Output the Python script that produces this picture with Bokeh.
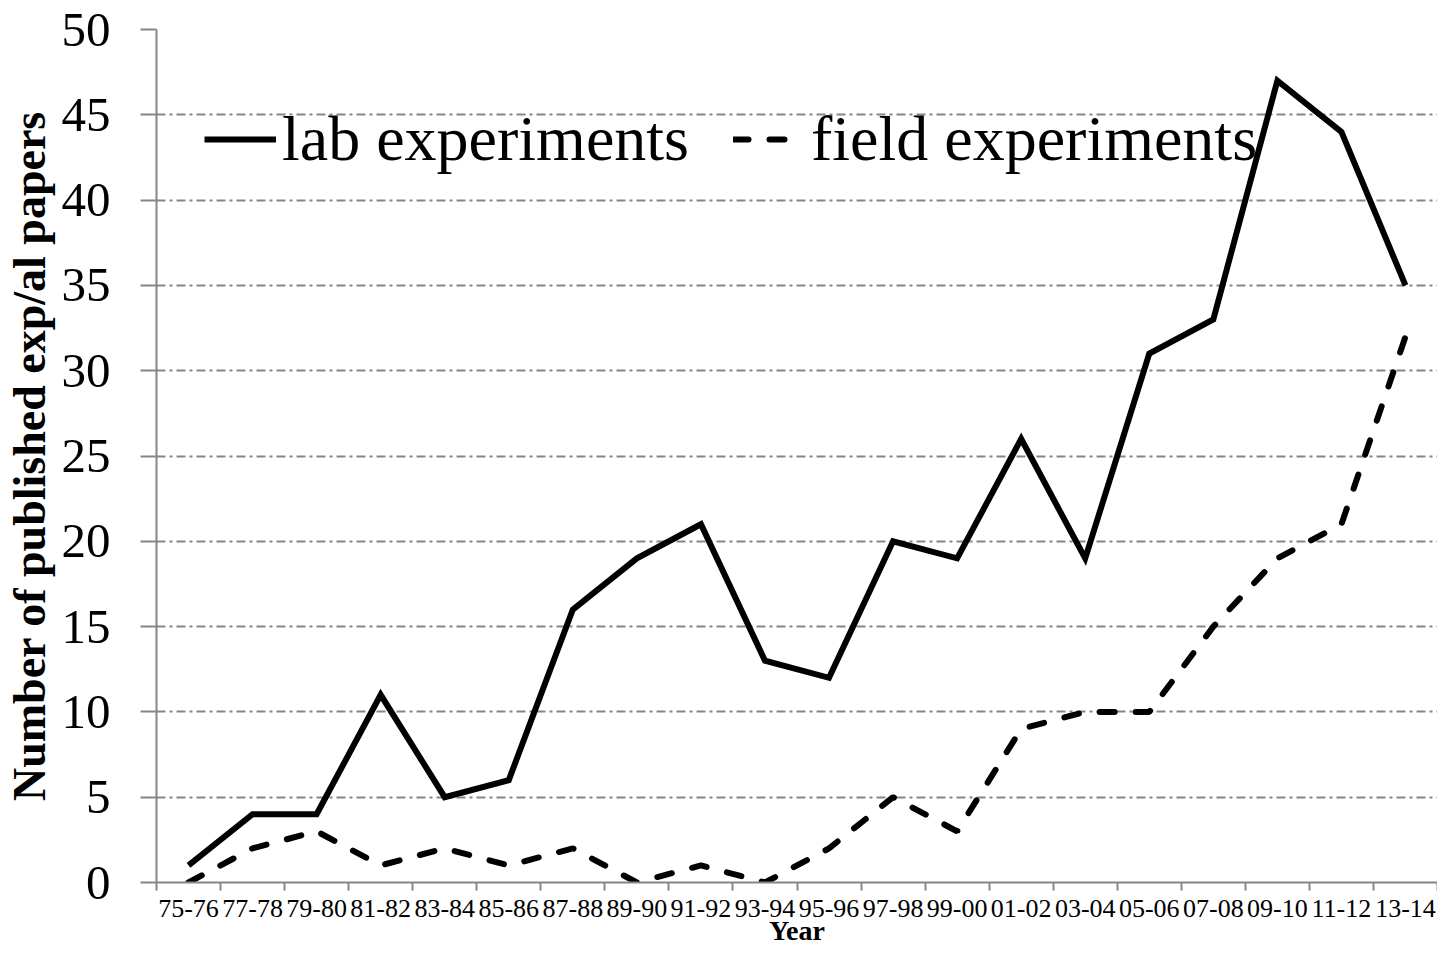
from bokeh.plotting import figure
from bokeh.models import FixedTicker, Range1d, Legend, LegendItem
from bokeh.embed import file_html
from bokeh.resources import INLINE

categories = ["75-76", "77-78", "79-80", "81-82", "83-84", "85-86", "87-88", "89-90",
              "91-92", "93-94", "95-96", "97-98", "99-00", "01-02", "03-04", "05-06",
              "07-08", "09-10", "11-12", "13-14"]
lab = [1, 4, 4, 11, 5, 6, 16, 19, 21, 13, 12, 20, 19, 26, 19, 31, 33, 47, 44, 35]
field = [0, 2, 3, 1, 2, 1, 2, 0, 1, 0, 2, 5, 3, 9, 10, 10, 15, 19, 21, 32]
y_ticks = [0, 5, 10, 15, 20, 25, 30, 35, 40, 45, 50]

FONT = "Liberation Serif"
GRAY = "#868686"

xs = [i + 0.5 for i in range(len(categories))]

p = figure(width=1437, height=948, output_backend="svg", toolbar_location=None,
           x_range=Range1d(0, len(categories)), y_range=Range1d(0, 50),
           min_border_left=10, min_border_right=0, min_border_top=29, min_border_bottom=10)
p.outline_line_color = None
p.background_fill_color = "white"

# x axis
p.xaxis.ticker = FixedTicker(ticks=xs, minor_ticks=list(range(len(categories) + 1)))
p.xaxis.major_label_overrides = {x: c for x, c in zip(xs, categories)}
p.xaxis.major_tick_line_color = None
p.xaxis.minor_tick_line_color = GRAY
p.xaxis.minor_tick_line_width = 2
p.xaxis.minor_tick_out = 8
p.xaxis.minor_tick_in = 0
p.xaxis.axis_line_color = GRAY
p.xaxis.axis_line_width = 2
p.xaxis.major_label_text_font = FONT
p.xaxis.major_label_text_font_size = "26px"
p.xaxis.major_label_text_color = "black"
p.xaxis.major_label_standoff = 9
p.xaxis.axis_label = "Year"
p.xaxis.axis_label_text_font = FONT
p.xaxis.axis_label_text_font_style = "bold"
p.xaxis.axis_label_text_font_size = "28px"
p.xaxis.axis_label_text_color = "black"
p.xaxis.axis_label_standoff = -5

# y axis
p.yaxis.ticker = FixedTicker(ticks=y_ticks)
p.yaxis.minor_tick_line_color = None
p.yaxis.major_tick_line_color = GRAY
p.yaxis.major_tick_line_width = 2
p.yaxis.major_tick_out = 16
p.yaxis.major_tick_in = 0
p.yaxis.axis_line_color = GRAY
p.yaxis.axis_line_width = 2
p.yaxis.major_label_text_font = FONT
p.yaxis.major_label_text_font_size = "49px"
p.yaxis.major_label_text_color = "black"
p.yaxis.major_label_standoff = 30
p.yaxis.axis_label = "Number of published exp/al papers"
p.yaxis.axis_label_text_font = FONT
p.yaxis.axis_label_text_font_style = "bold"
p.yaxis.axis_label_text_font_size = "46px"
p.yaxis.axis_label_text_color = "black"
p.yaxis.axis_label_standoff = 4

p.xgrid.grid_line_color = None
p.ygrid.grid_line_color = GRAY
p.ygrid.grid_line_width = 2
p.ygrid.grid_line_dash = "9 4 3 4"

r_lab = p.line(xs, lab, line_color="black", line_width=6, line_join="miter")
r_field = p.line(xs, field, line_color="black", line_width=6, line_dash="15 21",
                 line_cap="round")

legend = Legend(items=[LegendItem(label="lab experiments", renderers=[r_lab]),
                       LegendItem(label="field experiments", renderers=[r_field])],
                orientation="horizontal", location=(48, 706),
                label_text_font=FONT, label_text_font_size="64px",
                label_text_color="black", glyph_width=72, glyph_height=40,
                label_standoff=6, spacing=44, padding=0, margin=0,
                border_line_color=None, background_fill_alpha=0)
p.add_layout(legend)

open("out.html", "w").write(file_html(p, INLINE))
